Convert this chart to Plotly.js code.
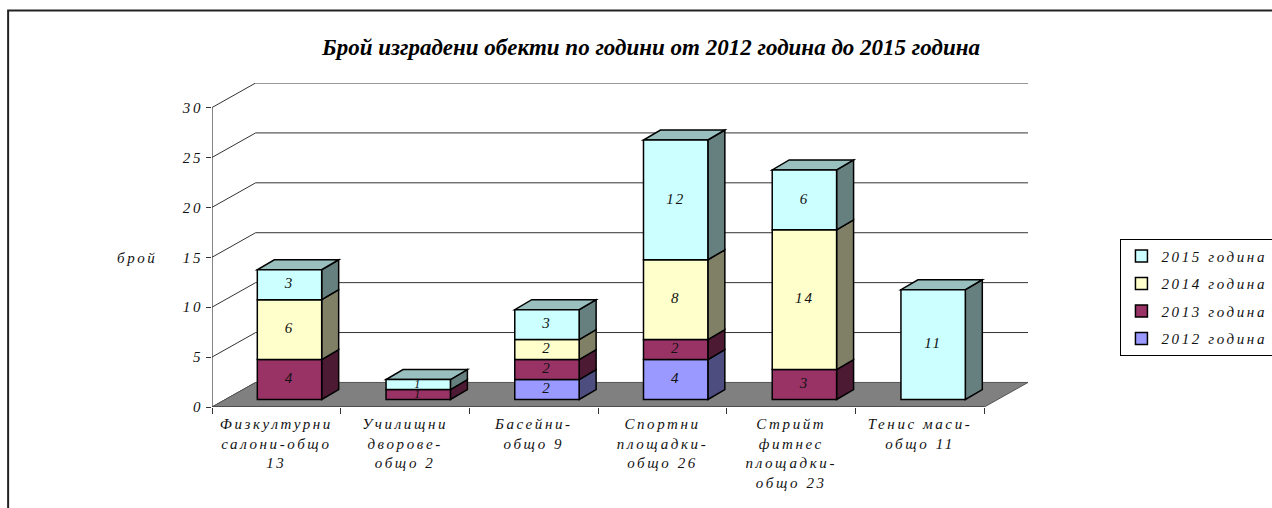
<!DOCTYPE html>
<html><head><meta charset="utf-8">
<script src="https://cdn.plot.ly/plotly-3.0.1.min.js"></script>
<style>
html,body{margin:0;padding:0;background:#fff;overflow:hidden;}
#chart{width:1272px;height:508px;}
.xtick text, .ytick text, .legendtext, .annotation-text { letter-spacing: 2.6px; }
.textpoint text { letter-spacing: 2px; }
</style></head><body><div id="chart"></div><script>
// ---- data ----
const categories = [
  "Физкултурни<br>салони-общо<br>13",
  "Училищни<br>дворове-<br>общо 2",
  "Басейни-<br>общо 9",
  "Спортни<br>площадки-<br>общо 26",
  "Стрийт<br>фитнес<br>площадки-<br>общо 23",
  "Тенис маси-<br>общо 11"
];
const years = ["2012 година", "2013 година", "2014 година", "2015 година"];
const v2012 = [0, 0, 2, 4, 0, 0];
const v2013 = [4, 1, 2, 2, 3, 0];
const v2014 = [6, 0, 2, 8, 14, 0];
const v2015 = [3, 1, 3, 12, 6, 11];
const yTicks = [0, 5, 10, 15, 20, 25, 30];
const titleText = "Брой изградени обекти по години от 2012 година до 2015 година";
const yLabel = "брой";
const colors = ["#9999FF", "#993366", "#FFFFCC", "#CCFFFF"];

// ---- 3D look (oblique projection, in axis units) ----
const series = [v2012, v2013, v2014, v2015];
const DX = 0.339, DY = 2.46;   // wall depth
const OX = 0.102, OY = 0.75;   // bar front offset into the floor
const BX = 0.132, BY = 1.0;    // bar depth
const BW = 0.5;                // bar width
const YMAX = yTicks[yTicks.length - 1];
const nCat = categories.length;
const idx = categories.map((c, i) => i);

function shade(hex, f) {
  const n = parseInt(hex.slice(1), 16);
  const r = Math.round(((n >> 16) & 255) * f), g = Math.round(((n >> 8) & 255) * f), b = Math.round((n & 255) * f);
  return "rgb(" + r + "," + g + "," + b + ")";
}
function path(pts) { return "M" + pts.map(p => p[0] + "," + p[1]).join("L") + "Z"; }
function lineShape(x0, y0, x1, y1, color, w) {
  return {type: "line", xref: "x", yref: "y", x0, y0, x1, y1, layer: "below", line: {color: color || "#333", width: w || 1}};
}

const shapes = [];
// left wall diagonals and back wall gridlines
yTicks.forEach(v => {
  shapes.push(lineShape(-0.5, v, -0.5 + DX, v + DY));
  if (v > 0) shapes.push(lineShape(-0.5 + DX, v + DY, nCat - 0.5 + DX, v + DY));
});
// floor
shapes.push({type: "path", xref: "x", yref: "y", layer: "below",
  path: path([[-0.5, 0], [nCat - 0.5, 0], [nCat - 0.5 + DX, DY], [-0.5 + DX, DY]]),
  fillcolor: "#808080", line: {color: "#555", width: 1}});
// axis lines
shapes.push(lineShape(-0.5, 0, -0.5, YMAX, "#333", 1.2));
shapes.push(lineShape(-0.5, 0, nCat - 0.5, 0, "#333", 1.2));

const traces = [];
const lx = [], ly = [], lt = [], ls = [];
const cum = idx.map(() => 0);
const topSeries = idx.map(() => -1);
series.forEach((vals, s) => {
  const base = cum.map(c => c + OY);
  traces.push({
    type: "bar", x: idx, y: vals.map(v => v || null), base: base,
    width: BW, offset: -BW / 2 + OX,
    marker: {color: colors[s], line: {color: "#000", width: 1.5}},
    name: years[s], legendgroup: years[s], legendrank: series.length - s, hoverinfo: "skip"
  });
  vals.forEach((v, i) => {
    if (!v) return;
    const x1 = i + BW / 2 + OX, b = cum[i] + OY, t = b + v;
    shapes.push({type: "path", xref: "x", yref: "y", layer: "below",
      path: path([[x1, b], [x1 + BX, b + BY], [x1 + BX, t + BY], [x1, t]]),
      fillcolor: shade(colors[s], 0.5), line: {color: "#000", width: 1.5}});
    lx.push(i + OX); ly.push(b + v / 2); lt.push(String(v)); ls.push(v < 2 ? 12 : 15);
    cum[i] += v; topSeries[i] = s;
  });
});
idx.forEach(i => {
  const s = topSeries[i];
  if (s < 0) return;
  const x0 = i - BW / 2 + OX, x1 = x0 + BW, t = cum[i] + OY;
  shapes.push({type: "path", xref: "x", yref: "y", layer: "below",
    path: path([[x0, t], [x1, t], [x1 + BX, t + BY], [x0 + BX, t + BY]]),
    fillcolor: shade(colors[s], 0.75), line: {color: "#000", width: 1.5}});
});
traces.push({type: "scatter", mode: "text", x: lx, y: ly, text: lt, showlegend: false, hoverinfo: "skip",
  textfont: {family: "Liberation Serif", style: "italic", size: ls, color: "#111"}});

// chart border
const W = 1272, H = 508, L = 212, R = 243.5, T = 83.4, B = 101;
const pw = W - L - R, ph = H - T - B;
shapes.push({type: "rect", xref: "paper", yref: "paper", layer: "above",
  x0: (8 - L) / pw, x1: (W + 5 - L) / pw, y0: -(B + 5) / ph, y1: (H - B - 11) / ph,
  line: {color: "#222", width: 2}});

const italic = {family: "Liberation Serif", style: "italic", size: 15, color: "#111"};
const layout = {
  width: W, height: H,
  margin: {l: L, r: R, t: T, b: B, autoexpand: false},
  paper_bgcolor: "#fff", plot_bgcolor: "rgba(0,0,0,0)",
  barmode: "overlay",
  title: {text: titleText, x: 651 / W, xanchor: "center", y: 1 - 47 / H, yanchor: "middle", yref: "container",
    font: {family: "Liberation Serif", style: "italic", weight: "bold", size: 23, color: "#000"}},
  xaxis: {range: [-0.5, nCat - 0.5 + DX], tickmode: "array", tickvals: idx, ticktext: categories,
    ticks: "", showgrid: false, zeroline: false, showline: false, tickfont: italic, ticklabelstandoff: 6,
    minor: {tickmode: "array", tickvals: idx.concat([nCat]).map(i => i - 0.5), ticks: "outside", ticklen: 6, tickcolor: "#333", tickwidth: 1, showgrid: false},
    fixedrange: true},
  yaxis: {range: [0, YMAX + DY], tickmode: "array", tickvals: yTicks, ticks: "outside", ticklen: 5, tickcolor: "#333",
    showgrid: false, zeroline: false, showline: false, tickfont: italic, fixedrange: true},
  legend: {x: (1121 - L) / pw, xanchor: "left", y: (H - B - 239) / ph, yanchor: "top",
    traceorder: "grouped", tracegroupgap: 5, bordercolor: "#000", borderwidth: 1, bgcolor: "#fff",
    font: italic},
  shapes: shapes,
  annotations: [{text: yLabel, xref: "paper", yref: "paper", x: (137 - L) / pw, y: (H - B - 258) / ph,
    xanchor: "center", yanchor: "middle", showarrow: false, font: italic}],
  showlegend: true
};
Plotly.newPlot("chart", traces, layout, {displayModeBar: false, staticPlot: true});
</script></body></html>
